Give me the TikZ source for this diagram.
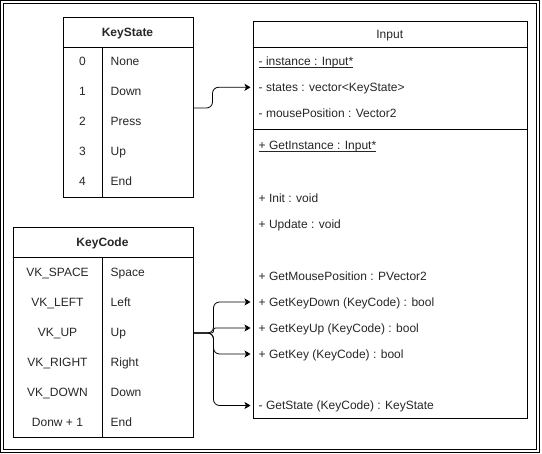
\documentclass[tikz,border=0pt]{standalone}
\usepackage{fontspec}
\setmainfont{Liberation Sans}
\usetikzlibrary{arrows.meta,positioning,calc}
\newcommand{\stat}[1]{\setbox0\hbox{#1}\rlap{\rule[-2pt]{\wd0}{0.7pt}}#1}
\tikzset{
  frame/.style={draw=black, double, double distance=2pt, line width=1pt},
  tbl/.style={draw=black, line width=1pt, anchor=north west, inner sep=0pt},
  cell/.style={text=black!85, inner sep=0pt, text height=8.6pt, text depth=0pt},
  member/.style={cell, anchor=west, inner xsep=6pt},
  arrow/.style={-{Stealth[length=6pt,width=7pt,inset=1.5pt]}, line width=0.8pt, rounded corners=6pt, shorten >=2pt},
}

\begin{document}
\begin{tikzpicture}[x=1pt, y=-1pt, font=\fontsize{12}{14}\selectfont]
  \useasboundingbox (0,0) rectangle (542,454);
  \draw[frame] (2,2) rectangle (538,451);

  \node[tbl, minimum width=130pt, minimum height=180pt] (ks) at (62.5,17.5) {};
  \draw ([yshift=-30pt]ks.north west) -- ([yshift=-30pt]ks.north east);
  \draw ([xshift=40pt,yshift=-30pt]ks.north west) -- ([xshift=40pt]ks.south west);
  \node[cell] (ks-title) at (127.5,32.5) {\bfseries KeyState};
  \foreach \n/\v [count=\i] in {0/None,1/Down,2/Press,3/Up,4/End} {
    \node[cell] (ks-n\i) at (82.5,31.7+30*\i) {\n};
    \node[cell, anchor=west] (ks-v\i) at (110.5,31.7+30*\i) {\v};
  }

  \node[tbl, minimum width=180pt, minimum height=210pt] (kc) at (12.5,227.5) {};
  \draw ([yshift=-30pt]kc.north west) -- ([yshift=-30pt]kc.north east);
  \draw ([xshift=90pt,yshift=-30pt]kc.north west) -- ([xshift=90pt]kc.south west);
  \node[cell] (kc-title) at (102.5,242.5) {\bfseries KeyCode};
  \foreach \n/\v [count=\i] in {VK\_SPACE/Space,VK\_LEFT/Left,VK\_UP/Up,VK\_RIGHT/Right,VK\_DOWN/Down,Donw + 1/End} {
    \node[cell] (kc-n\i) at (57.5,242+30*\i) {\n};
    \node[cell, anchor=west] (kc-v\i) at (110.5,242+30*\i) {\v};
  }

  \node[tbl, minimum width=274.5pt, minimum height=397pt] (input) at (252.5,21.5) {};
  \draw ([yshift=-26pt]input.north west) -- ([yshift=-26pt]input.north east);
  \draw ([yshift=-108pt]input.north west) -- ([yshift=-108pt]input.north east);
  \node[cell] (input-title) at (389.75,34.5) {Input};
  \foreach \y/\nm/\txt in {
      61.7/instance/\stat{- instance : Input*},
      87.3/states/- states : vector<KeyState>,
      113.3/mousepos/- mousePosition : Vector2,
      145/getinstance/\stat{+ GetInstance : Input*},
      198.3/init/+ Init : void,
      224/update/+ Update : void,
      276.5/getmousepos/+ GetMousePosition : PVector2,
      302/getkeydown/+ GetKeyDown (KeyCode) : bool,
      328/getkeyup/+ GetKeyUp (KeyCode) : bool,
      354/getkey/+ GetKey (KeyCode) : bool,
      405.5/getstate/- GetState (KeyCode) : KeyState} {
    \node[member] (\nm) at (252.5,\y) {\txt};
  }

  \draw[arrow] (ks.east) -- ++(19,0) |- (states.west);
  \foreach \t in {getkeydown,getkey,getstate}
    \draw[arrow] (kc.east) -- ++(20,0) |- (\t.west);
  \draw[arrow, rounded corners=2pt] (kc.east) -- ++(20,0) |- (getkeyup.west);
\end{tikzpicture}
\end{document}
